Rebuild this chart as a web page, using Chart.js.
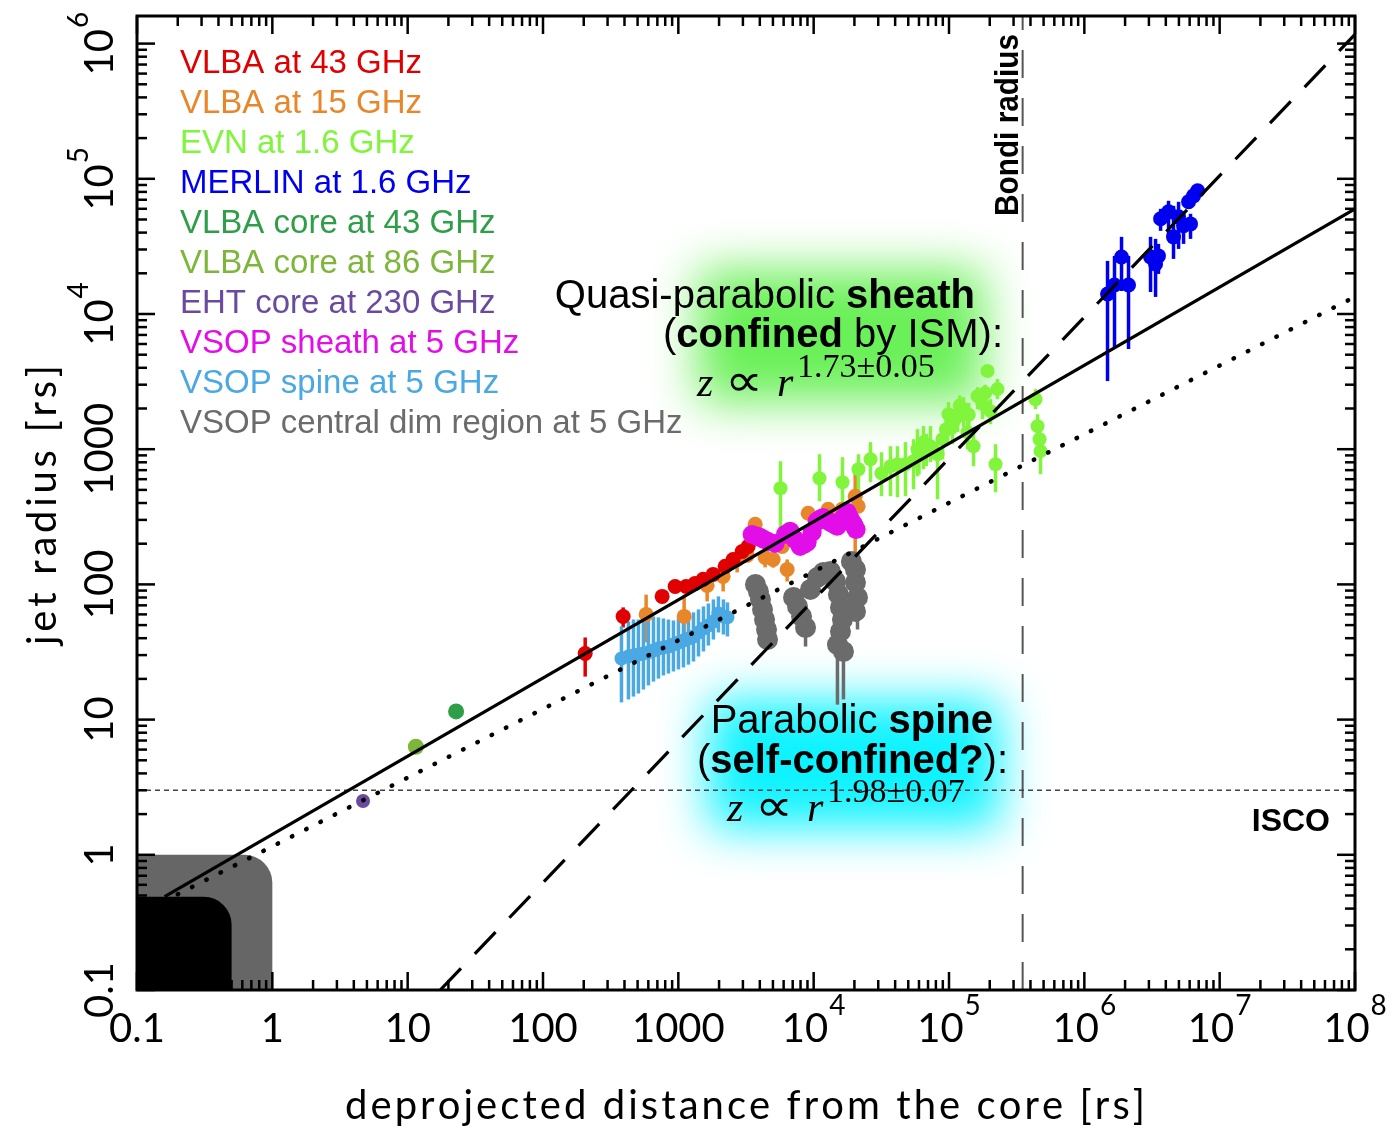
<!DOCTYPE html>
<html>
<head>
<meta charset="utf-8">
<script src="https://cdn.jsdelivr.net/npm/chart.js@4.4.1/dist/chart.umd.min.js"></script>
<style>
  html, body { margin: 0; padding: 0; background: #fff; }
  #wrap { width: 1394px; height: 1130px; }
</style>
</head>
<body>
<div id="wrap"><canvas id="jetChart" width="1394" height="1130"></canvas></div>
<script>
// values: [distance (rs), radius (rs), lower error, upper error]
const vlba43 = [
  [205, 30.8, 20.8, 40.5], [391, 57.9, 48, 67.6], [759, 81.5, 73.6, 88.7],
  [947, 96.6, 90, 103], [1142, 96.6, 90, 103], [1330, 101.7, 95, 109],
  [1525, 109, 102, 117], [1808, 118.6, 111, 127], [2218, 136, 127, 146],
  [2541, 153, 143, 164], [2963, 175, 163, 187], [3281, 191, 178, 205]
];
const vlba15 = [
  [578, 60, 37.2, 84], [1104, 58, 41.2, 84], [1633, 98.4, 74.8, 112.6],
  [2143, 114.6, 88.7, 129], [2720, 153, 122.7, 172], [3223, 164, 150, 178],
  [3698, 278, 260, 297], [4378, 158, 133.6, 182], [5020, 153, 133, 172],
  [5850, 191, 175, 208], [6370, 129, 105, 153], [9110, 336, 315, 358],
  [12800, 359, 335, 385], [16240, 359, 335, 385], [20270, 449, 100, 711],
  [21320, 378, 350, 405]
];
const evn16 = [
  [5688, 514, 247, 815], [11040, 610, 412, 918], [16330, 570, 391, 873],
  [21430, 711, 449, 918], [26300, 843, 570, 1127], [31700, 664, 449, 950],
  [36980, 748, 449, 1052], [41600, 774, 441, 1052], [47700, 774, 449, 1127],
  [54700, 815, 505, 1186], [58500, 1000, 631, 1407], [60000, 900, 650, 1200],
  [64800, 1127, 711, 1481], [68000, 1000, 750, 1300], [73000, 1052, 801, 1481],
  [82300, 918, 426, 1127], [89600, 1186, 843, 1531], [95000, 1400, 1100, 1700],
  [99100, 1816, 1249, 2229], [106100, 1531, 1088, 1978], [110000, 1650, 1300, 2000],
  [115600, 1755, 1336, 2344], [120000, 2100, 1700, 2500], [128000, 1978, 1456, 2428],
  [137000, 1336, 1000, 1668], [140000, 1800, 1450, 2200], [151700, 1052, 748, 1336],
  [162500, 2471, 1978, 2880], [170000, 2400, 2000, 2800], [177000, 2154, 1668, 2644],
  [185000, 2600, 2200, 3000], [192600, 3784, 3415, 4050], [202600, 1911, 1531, 2344],
  [220700, 774, 480, 1088], [228000, 2783, 2344, 3302], [435700, 2344, 1978, 2783],
  [451000, 1481, 1186, 1816], [466700, 1186, 1000, 1407], [474600, 967, 653, 1186]
];
const merlin16 = [
  [1.484e6, 14060, 3190, 24700], [1.671e6, 16400, 5700, 26900], [1.883e6, 26430, 14800, 37200],
  [2.121e6, 16400, 5510, 26900], [3.085e6, 26430, 14550, 37200], [3.36e6, 23450, 13370, 35940],
  [3.53e6, 26900, 19790, 33000], [3.66e6, 50600, 41200, 59950], [4.19e6, 56970, 35940, 68750],
  [4.56e6, 37200, 25550, 63100], [4.97e6, 52300, 30300, 67600], [5.41e6, 44900, 33000, 53200],
  [5.89e6, 67600, 59950, 73600], [6.09e6, 46400, 35940, 55100], [6.41e6, 74800, 67600, 81500],
  [6.87e6, 81500, 73600, 88800]
];
const core43 = [[22.8, 11.5, 10.6, 12.4]];
const core86 = [[11.5, 6.3]];
const ehtCore230 = [[4.68, 2.5]];
const vsopSheath = [
  [3510, 234], [3800, 228], [4025, 223], [4300, 215], [4610, 208], [5190, 201],
  [6200, 235], [6700, 247], [7300, 215], [7950, 191], [8500, 198], [8950, 205],
  [9750, 243], [10600, 293], [11200, 305], [11750, 313], [12500, 300], [13250, 288],
  [14000, 280], [14920, 269], [15500, 285], [16250, 303], [17000, 320], [17700, 341],
  [18500, 310], [19270, 288], [20000, 270], [20600, 255]
];
const vsopSpine = [
  [380, 28.3, 13.4, 48.9], [428, 29.3, 14.1, 53.2], [466, 29.8, 14.8, 55.0],
  [507, 30.3, 15.6, 55.0], [552, 30.8, 16.7, 57.0], [601, 31.4, 17.9, 57.9],
  [655, 32.4, 19.1, 57.9], [713, 33.6, 20.1, 57.0], [776, 34.1, 21.2, 56.0],
  [845, 34.7, 21.9, 55.0], [920, 35.9, 22.7, 54.1], [1002, 37.2, 23.5, 56.0],
  [1091, 38.5, 24.3, 57.9], [1188, 39.8, 25.5, 59.9], [1294, 41.2, 26.9, 62.1],
  [1409, 44.1, 29.3, 65.3], [1534, 47.2, 31.9, 68.7], [1668, 49.7, 35.3, 72.3],
  [1816, 53.2, 39.1, 77.4], [1978, 61, 44.1, 81.5], [2154, 57.9, 42.6, 77.4],
  [2306, 57.0, 41.2, 73.6]
];
const vsopDim = [
  [3715, 100], [3908, 88.7], [4045, 77.4], [4188, 65.3], [4335, 55.0], [4483, 46.4],
  [4561, 39.1, 33.0, 46.4], [7097, 80.1], [7598, 68.7], [8135, 57.9], [8710, 48.0, 34.7, 59.9],
  [9470, 91.8], [10670, 112.6], [11810, 122.7], [13300, 124.8], [14490, 105.2], [15250, 84.3],
  [15780, 67.6], [16320, 55.0], [15780, 44.9], [14990, 35.9, 12.9, 46.4], [16600, 31.9, 14.1, 39.1],
  [19010, 148], [20360, 129], [20360, 103.5], [21080, 80.1, 46.4, 118.6], [20360, 63.1]
];

// fitted profiles and reference radii, endpoints
const sheathFit = [[0.16, 0.49], [1e8, 6.0e4]];
const spineFit = [[0.2, 0.51], [1e8, 1.34e4]];
const conicalFit = [[17.4, 0.1], [1e8, 1.17e6]];
const iscoRadius = 3;
const bondiRadius = 3.5e5;
const horizonZone = [0.5, 0.49];
const ergoZone = [1, 1];

const xTickValues = [0.1, 1, 10, 100, 1000, 1e4, 1e5, 1e6, 1e7, 1e8];
const xTickLabels = ['0.1', '1', '10', '100', '1000', '10^4', '10^5', '10^6', '10^7', '10^8'];
const yTickValues = [0.1, 1, 10, 100, 1000, 1e4, 1e5, 1e6];
const yTickLabels = ['0.1', '1', '10', '100', '1000', '10^4', '10^5', '10^6'];
const minorSteps = [2, 3, 4, 5, 6, 7, 8, 9];

function toPoints(rows) {
  return rows.map(r => ({ x: r[0], y: r[1], lo: r[2] ?? null, hi: r[3] ?? null }));
}

function makeSeries(label, color, rows, radius, order) {
  return {
    label: label, data: toPoints(rows), inLegend: true, errorBars: true,
    backgroundColor: color, borderColor: color, pointRadius: radius,
    pointBorderWidth: 0, showLine: false, order: order
  };
}

function makeLine(rows, width, dash, color, cap) {
  return {
    data: rows.map(r => ({ x: r[0], y: r[1] })), showLine: true, pointRadius: 0,
    borderColor: color || '#000', borderWidth: width, borderDash: dash,
    borderCapStyle: cap || 'butt', fill: false, order: 0
  };
}

const datasets = [
  makeSeries('VLBA at 43 GHz', '#e00000', vlba43, 7.5, 2),
  makeSeries('VLBA at 15 GHz', '#e8862a', vlba15, 7.5, 3),
  makeSeries('EVN at 1.6 GHz', '#80f53c', evn16, 7, 4),
  makeSeries('MERLIN at 1.6 GHz', '#0000f0', merlin16, 7.5, 7),
  makeSeries('VLBA core at 43 GHz', '#2e9e48', core43, 8, 8),
  makeSeries('VLBA core at 86 GHz', '#7db63a', core86, 8, 8),
  makeSeries('EHT core at 230 GHz', '#6a4a9e', ehtCore230, 7, 8),
  makeSeries('VSOP sheath at 5 GHz', '#e20ee8', vsopSheath, 9.5, 1),
  makeSeries('VSOP spine at 5 GHz', '#4aa8e2', vsopSpine, 7, 5),
  makeSeries('VSOP central dim region at 5 GHz', '#6b6b6b', vsopDim, 10.5, 6),
  makeLine(sheathFit, 3.2, []),
  makeLine(spineFit, 4.5, [0.5, 15.5], '#000', 'round'),
  makeLine(conicalFit, 3.2, [30, 20]),
  makeLine([[0.1, iscoRadius], [1e8, iscoRadius]], 1.4, [5, 4], '#444'),
  makeLine([[bondiRadius, 0.1], [bondiRadius, 1.6e6]], 2, [28, 20], '#555')
];

// black / grey zones in the lower-left corner
const zonePlugin = {
  id: 'zones',
  beforeDatasetsDraw(chart) {
    const ctx = chart.ctx, a = chart.chartArea, xs = chart.scales.x, ys = chart.scales.y;
    ctx.save();
    [[ergoZone, '#666666'], [horizonZone, '#000000']].forEach(([z, col]) => {
      const px = xs.getPixelForValue(z[0]), py = ys.getPixelForValue(z[1]);
      ctx.fillStyle = col;
      ctx.beginPath();
      ctx.roundRect(a.left, py, px - a.left, a.bottom - py, [0, 28, 0, 0]);
      ctx.fill();
    });
    ctx.restore();
  }
};

// soft coloured glow behind the two annotations
const glowPlugin = {
  id: 'glow',
  beforeDatasetsDraw(chart) {
    const ctx = chart.ctx;
    ctx.save();
    ctx.filter = 'blur(24px)';
    ctx.fillStyle = 'rgba(90, 238, 70, 0.9)';
    ctx.fillRect(698, 270, 285, 132);
    ctx.fillStyle = 'rgba(0, 242, 255, 0.95)';
    ctx.fillRect(708, 700, 292, 128);
    ctx.restore();
  }
};

const errorBarPlugin = {
  id: 'errorBars',
  beforeDatasetsDraw(chart) {
    const ctx = chart.ctx, a = chart.chartArea, ys = chart.scales.y;
    ctx.save();
    ctx.beginPath();
    ctx.rect(a.left, a.top, a.right - a.left, a.bottom - a.top);
    ctx.clip();
    chart.data.datasets.forEach((ds, i) => {
      if (!ds.errorBars) return;
      const meta = chart.getDatasetMeta(i);
      ctx.strokeStyle = ds.borderColor;
      ctx.lineWidth = 3.5;
      ds.data.forEach((p, j) => {
        if (p.lo == null) return;
        const px = meta.data[j].x;
        ctx.beginPath();
        ctx.moveTo(px, ys.getPixelForValue(p.lo));
        ctx.lineTo(px, ys.getPixelForValue(p.hi));
        ctx.stroke();
      });
    });
    ctx.restore();
  }
};

function drawPower(ctx, label, cx, baseline, size, supSize, supRise) {
  const parts = label.split('^');
  ctx.font = size + 'px Lato';
  const wb = ctx.measureText(parts[0]).width;
  let we = 0;
  if (parts[1]) { ctx.font = supSize + 'px Lato'; we = ctx.measureText(parts[1]).width + 1; }
  const x0 = cx - (wb + we) / 2;
  ctx.font = size + 'px Lato';
  ctx.fillText(parts[0], x0, baseline);
  if (parts[1]) { ctx.font = supSize + 'px Lato'; ctx.fillText(parts[1], x0 + wb + 1, baseline - supRise); }
}

function drawSpaced(ctx, text, cx, baseline, target) {
  const chars = [...text];
  const widths = chars.map(ch => ctx.measureText(ch).width);
  const sum = widths.reduce((s, w) => s + w, 0);
  const gap = (target - sum) / (chars.length - 1);
  let x = cx - target / 2;
  chars.forEach((ch, i) => { ctx.fillText(ch, x, baseline); x += widths[i] + gap; });
}

function drawRuns(ctx, runs, rightX, baseline, size) {
  const fonts = runs.map(r => (r[1] ? 'bold ' : '') + size + 'px "Liberation Sans"');
  const widths = runs.map((r, i) => { ctx.font = fonts[i]; return ctx.measureText(r[0]).width; });
  let x = rightX - widths.reduce((s, w) => s + w, 0);
  runs.forEach((r, i) => { ctx.font = fonts[i]; ctx.fillText(r[0], x, baseline); x += widths[i]; });
}

function drawFormula(ctx, x, baseline, exponent) {
  ctx.font = 'italic 42px "Liberation Serif"';
  ctx.fillText('z', x, baseline);
  ctx.save();
  ctx.font = '40px "DejaVu Sans"';
  const pw = ctx.measureText('\u221D').width;
  ctx.translate(x + 28, baseline);
  ctx.scale(38 / pw, 1.15);
  ctx.fillText('\u221D', 0, 0);
  ctx.restore();
  ctx.font = 'italic 42px "Liberation Serif"';
  ctx.fillText('r', x + 80, baseline);
  ctx.font = '34px "Liberation Serif"';
  ctx.fillText(exponent, x + 100, baseline - 19);
}

const decorPlugin = {
  id: 'decor',
  afterDatasetsDraw(chart) {
    const ctx = chart.ctx, a = chart.chartArea, xs = chart.scales.x, ys = chart.scales.y;
    ctx.save();
    ctx.fillStyle = '#000';
    ctx.strokeStyle = '#000';
    ctx.textAlign = 'left';
    ctx.textBaseline = 'alphabetic';

    // ticks on all four sides, pointing inwards
    ctx.lineWidth = 2.5;
    const tick = (x1, y1, x2, y2) => { ctx.beginPath(); ctx.moveTo(x1, y1); ctx.lineTo(x2, y2); ctx.stroke(); };
    xTickValues.forEach(v => {
      [1].concat(minorSteps).forEach(m => {
        const val = v * m;
        if (val > xs.max * 1.0001) return;
        const px = xs.getPixelForValue(val), len = m === 1 ? 18 : 10;
        tick(px, a.bottom, px, a.bottom - len);
        tick(px, a.top, px, a.top + len);
      });
    });
    yTickValues.forEach(v => {
      [1].concat(minorSteps).forEach(m => {
        const val = v * m;
        if (val > ys.max * 1.0001) return;
        const py = ys.getPixelForValue(val), len = m === 1 ? 18 : 10;
        tick(a.left, py, a.left + len, py);
        tick(a.right, py, a.right - len, py);
      });
    });

    // frame
    ctx.lineWidth = 3;
    ctx.strokeRect(a.left, a.top, a.right - a.left, a.bottom - a.top);

    // tick labels
    xTickValues.forEach((v, i) => drawPower(ctx, xTickLabels[i], xs.getPixelForValue(v), 1042, 40, 28, 27));
    yTickValues.forEach((v, i) => {
      ctx.save();
      ctx.translate(113, ys.getPixelForValue(v));
      ctx.rotate(-Math.PI / 2);
      drawPower(ctx, yTickLabels[i], 0, 0, 40, 28, 25);
      ctx.restore();
    });

    // axis titles
    ctx.font = '40px Lato';
    drawSpaced(ctx, 'deprojected distance from the core [rs]', 745, 1119, 800);
    ctx.save();
    ctx.translate(56, 505);
    ctx.rotate(-Math.PI / 2);
    drawSpaced(ctx, 'jet radius [rs]', 0, 0, 280);
    ctx.restore();

    // legend: dataset labels in their colours
    ctx.font = '33px "Liberation Sans"';
    let row = 0;
    chart.data.datasets.forEach(ds => {
      if (!ds.inLegend) return;
      ctx.fillStyle = ds.borderColor;
      ctx.fillText(ds.label, 180, 73 + 40 * row);
      row++;
    });

    // annotations
    ctx.fillStyle = '#000';
    drawRuns(ctx, [['Quasi-parabolic ', false], ['sheath', true]], 975, 308, 40);
    drawRuns(ctx, [['(', false], ['confined', true], [' by ISM):', false]], 1003, 347, 40);
    drawFormula(ctx, 697, 396, '1.73\u00B10.05');
    drawRuns(ctx, [['Parabolic ', false], ['spine', true]], 993, 733, 40);
    drawRuns(ctx, [['(', false], ['self-confined?', true], ['):', false]], 1008, 773, 40);
    drawFormula(ctx, 727, 821, '1.98\u00B10.07');

    ctx.font = 'bold 32px "Liberation Sans"';
    ctx.textAlign = 'right';
    ctx.fillText('ISCO', 1330, 831);
    ctx.textAlign = 'left';

    ctx.save();
    ctx.translate(1018, 125);
    ctx.rotate(-Math.PI / 2);
    ctx.font = 'bold 34px "Liberation Sans"';
    const bw = ctx.measureText('Bondi radius').width;
    ctx.scale(182 / bw, 1);
    ctx.fillText('Bondi radius', -bw / 2, 0);
    ctx.restore();

    ctx.restore();
  }
};

new Chart(document.getElementById('jetChart'), {
  type: 'scatter',
  data: { datasets: datasets },
  options: {
    responsive: false,
    animation: false,
    devicePixelRatio: 1,
    events: [],
    layout: { padding: { left: 137, top: 16, right: 39, bottom: 140 } },
    scales: {
      x: { type: 'logarithmic', min: 0.1, max: 1e8, display: false },
      y: { type: 'logarithmic', min: 0.1, max: 1.6e6, display: false }
    },
    plugins: {
      legend: { display: false },
      tooltip: { enabled: false }
    }
  },
  plugins: [zonePlugin, glowPlugin, errorBarPlugin, decorPlugin]
});
</script>
</body>
</html>
